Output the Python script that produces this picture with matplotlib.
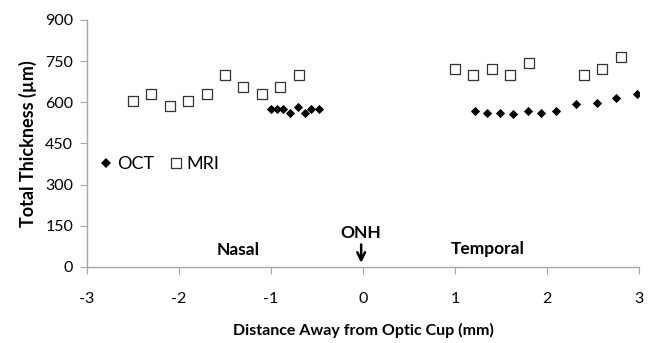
import matplotlib
matplotlib.use('Agg')
import matplotlib.pyplot as plt
from matplotlib.lines import Line2D

# ── Data ──────────────────────────────────────────────────────────────────────
MRI_X = [-2.5, -2.3, -2.1, -1.9, -1.7, -1.5, -1.3, -1.1, -0.9, -0.7,
         1.0, 1.2, 1.4, 1.6, 1.8, 2.4, 2.6, 2.8]
MRI_Y = [605, 630, 585, 605, 630, 700, 655, 630, 655, 700,
         720, 700, 720, 700, 745, 700, 720, 765]

OCT_X = [-1.0, -0.94, -0.87, -0.79, -0.71, -0.63, -0.56, -0.48,
         1.22, 1.35, 1.49, 1.63, 1.79, 1.94, 2.1, 2.32, 2.54, 2.75, 2.98]
OCT_Y = [577, 577, 577, 562, 583, 560, 575, 577,
         567, 560, 560, 556, 568, 560, 570, 593, 598, 616, 630]

X_TICKS = [-3, -2, -1, 0, 1, 2, 3]
Y_TICKS = [0, 150, 300, 450, 600, 750, 900]

FONT = ['Lato', 'DejaVu Sans']
C_AXIS = '#a6a6a6'

fig = plt.figure(figsize=(6.55, 3.43), dpi=100, facecolor='white')
ax = fig.add_axes([0.1328, 0.2216, 0.8428, 0.7201])

ax.scatter(OCT_X, OCT_Y, marker='D', s=22, color='black', linewidths=0, zorder=3, label='OCT')
ax.scatter(MRI_X, MRI_Y, marker='s', s=55, facecolors='white', edgecolors='#333333',
           linewidths=0.9, zorder=3, label='MRI')

ax.set_xlim(-3, 3)
ax.set_ylim(0, 900)
ax.set_xticks(X_TICKS)
ax.set_yticks(Y_TICKS)
ax.set_xticklabels([str(t) for t in X_TICKS], family=FONT, fontsize=11.5)
ax.set_yticklabels([str(t) for t in Y_TICKS], family=FONT, fontsize=11.5)
ax.tick_params(axis='both', direction='out', length=5, width=0.8, color=C_AXIS, pad=13)
ax.tick_params(axis='y', pad=5)

for s in ['top', 'right']:
    ax.spines[s].set_visible(False)
for s in ['left', 'bottom']:
    ax.spines[s].set_color(C_AXIS)
    ax.spines[s].set_linewidth(1.0)

ax.set_ylabel('Total Thickness (µm)', family=FONT, fontsize=13, fontweight='bold', labelpad=6)
ax.set_xlabel('Distance Away from Optic Cup (mm)', family=FONT, fontsize=11.5,
              fontweight='bold', labelpad=12)

# region labels
ax.text(-1.36, 62, 'Nasal', family=FONT, fontsize=12.5, fontweight='bold', ha='center', va='center')
ax.text(1.36, 65, 'Temporal', family=FONT, fontsize=12.5, fontweight='bold', ha='center', va='center')
ax.annotate('', xy=(-0.02, 5), xytext=(-0.02, 92),
            arrowprops=dict(arrowstyle='->', color='black', lw=1.8, mutation_scale=14))
ax.text(-0.02, 125, 'ONH', family=FONT, fontsize=12.5, fontweight='bold', ha='center', va='center')

handles = [
    Line2D([], [], marker='D', linestyle='none', markersize=5, color='black', markeredgewidth=0),
    Line2D([], [], marker='s', linestyle='none', markersize=7, markerfacecolor='white',
           markeredgecolor='#333333', markeredgewidth=0.9),
]
ax.legend(handles, ['OCT', 'MRI'], loc='center left', bbox_to_anchor=(-0.005, 0.415), ncol=2,
          frameon=False, handlelength=0.6, handletextpad=0.3, columnspacing=0.9,
          prop={'family': FONT, 'size': 13})

fig.savefig('out.png', dpi=100, facecolor='white')
